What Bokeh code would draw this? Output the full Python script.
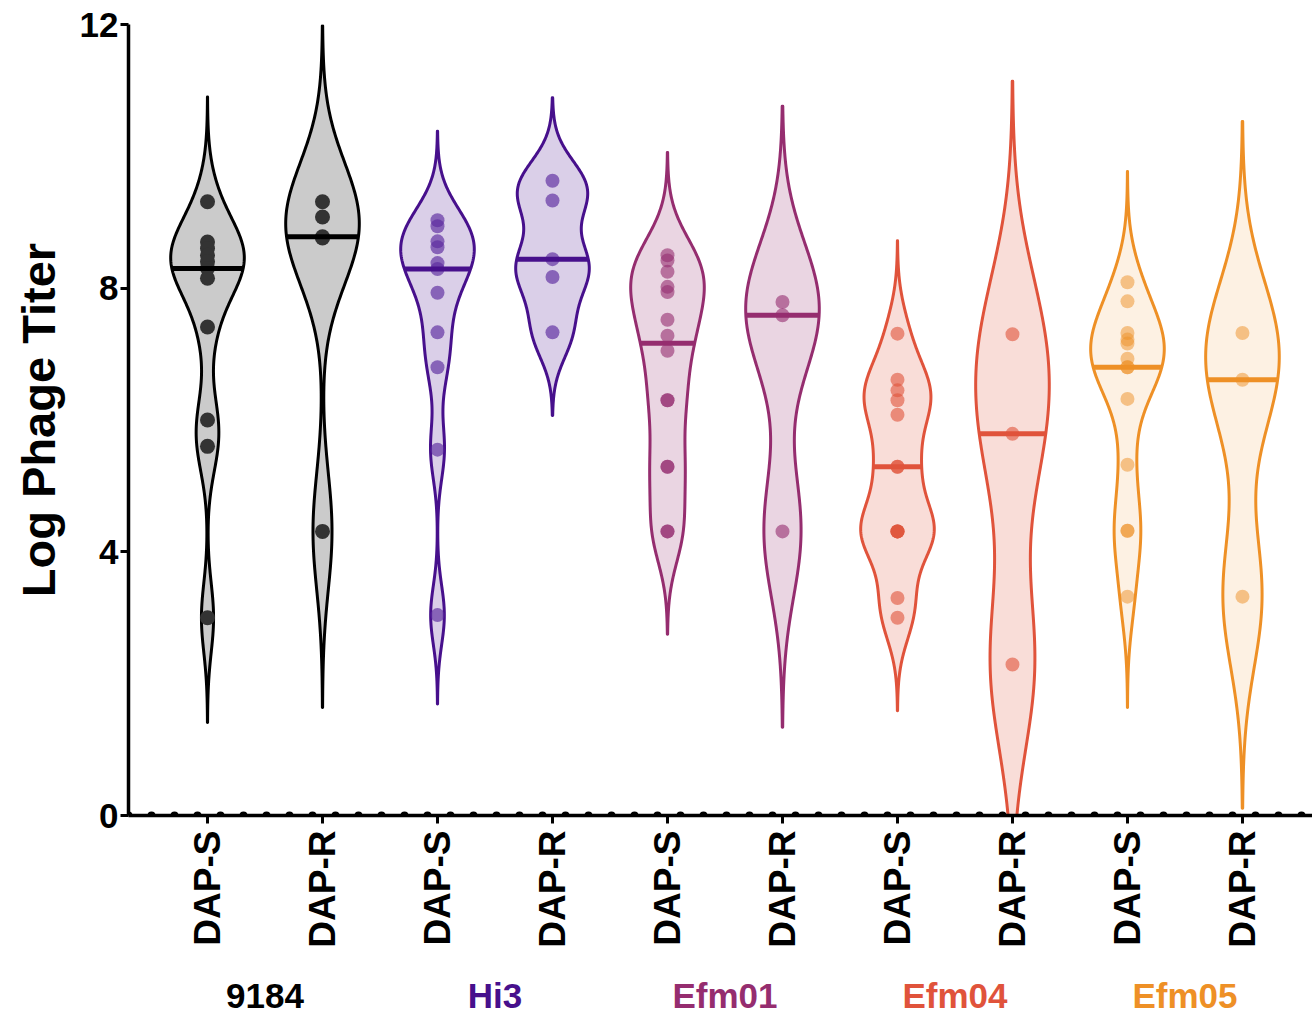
import numpy as np
from math import pi
from bokeh.plotting import figure
from bokeh.layouts import column
from bokeh.models import Range1d, FixedTicker, Span, ColumnDataSource
from bokeh.core.properties import value
from bokeh.embed import file_html
from bokeh.resources import INLINE

# ---------------- data ----------------
GROUPS = ["9184", "Hi3", "Efm01", "Efm04", "Efm05"]
CONDITIONS = ["DAP-S", "DAP-R"]

v9184_S = [9.31, 8.70, 8.60, 8.50, 8.40, 8.30, 8.15, 7.41, 6.00, 5.60, 3.00]
v9184_R = [9.31, 9.08, 8.78, 8.76, 4.31]
hi3_S = [9.03, 8.94, 8.71, 8.62, 8.38, 8.29, 7.93, 7.33, 6.80, 5.55, 3.04]
hi3_R = [9.63, 9.33, 8.44, 8.17, 7.33]
efm01_S = [8.50, 8.42, 8.25, 8.02, 7.94, 7.52, 7.28, 7.05, 6.30, 6.30, 5.29, 5.29, 4.31, 4.31]
efm01_R = [7.79, 7.59, 4.31]
efm04_S = [7.31, 6.61, 6.45, 6.30, 6.08, 5.29, 5.29, 4.31, 4.31, 4.31, 4.31, 3.30, 3.00]
efm04_R = [7.30, 5.79, 2.29]
efm05_S = [8.09, 7.80, 7.32, 7.22, 7.16, 6.93, 6.80, 6.80, 6.32, 5.32, 4.32, 4.32, 3.32]
efm05_R = [7.32, 6.61, 3.32]

SERIES = [v9184_S, v9184_R, hi3_S, hi3_R, efm01_S, efm01_R,
          efm04_S, efm04_R, efm05_S, efm05_R]
TICK_LABELS = [c for g in GROUPS for c in CONDITIONS]

Y_TICKS = [0, 4, 8, 12]

# ---------------- styles ----------------
LINE_COLORS = ["#000000", "#47108c", "#952d6f", "#e0533b", "#ee9026"]
FILL_COLORS = ["#cbcbcb", "#47108c", "#952d6f", "#e0533b", "#ee9026"]
FILL_ALPHAS = [1.0, 0.2, 0.2, 0.2, 0.13]
DOT_COLORS = ["#333333", "#5a2a9e", "#952d6f", "#e0533b", "#ee9026"]
DOT_ALPHAS = [1.0, 0.65, 0.6, 0.6, 0.5]
BANDWIDTH = [0.53, 0.89, 0.45, 0.42, 0.52, 0.99, 0.47, 1.28, 0.56, 1.07]
HALF_W = 0.32
FONT = "Liberation Sans"

x_range = Range1d(-0.687, 9.609)

p = figure(width=1312, height=950, output_backend="svg", toolbar_location=None,
           x_range=x_range, y_range=Range1d(0, 12),
           min_border_left=128, min_border_right=0, min_border_top=24,
           min_border_bottom=134)
p.outline_line_color = None
p.xgrid.visible = False
p.ygrid.visible = False
p.background_fill_color = "white"

# violins
for i, vals in enumerate(SERIES):
    g = i // 2
    bw = BANDWIDTH[i]
    arr = np.asarray(vals, dtype=float)
    lo = max(arr.min() - 3 * bw, 0.0)
    hi = arr.max() + 3 * bw
    grid = np.linspace(lo, hi, 400)
    dens = np.exp(-0.5 * ((grid[None, :] - arr[:, None]) / bw) ** 2).sum(axis=0)
    half = dens / dens.max() * HALF_W
    xs = np.concatenate([i + half, (i - half)[::-1]])
    ys = np.concatenate([grid, grid[::-1]])
    p.patch(xs, ys, fill_color=FILL_COLORS[g], fill_alpha=FILL_ALPHAS[g],
            line_color=LINE_COLORS[g], line_width=3, line_join="round")

    src = ColumnDataSource(dict(x=[i] * len(arr), y=arr))
    p.scatter("x", "y", source=src, size=15 if g == 0 else 14,
              fill_color=DOT_COLORS[g], fill_alpha=DOT_ALPHAS[g],
              line_color=None)

    med = float(np.median(arr))
    dm = np.exp(-0.5 * ((med - arr) / bw) ** 2).sum()
    hm = dm / dens.max() * HALF_W
    p.segment(x0=[i - hm], y0=[med], x1=[i + hm], y1=[med],
              line_color=LINE_COLORS[g], line_width=5)

# axes
p.xaxis.ticker = FixedTicker(ticks=list(range(len(TICK_LABELS))))
p.xaxis.major_label_overrides = {i: t for i, t in enumerate(TICK_LABELS)}
p.xaxis.major_label_orientation = pi / 2
p.xaxis.minor_tick_line_color = None
p.yaxis.ticker = FixedTicker(ticks=Y_TICKS)
p.yaxis.minor_tick_line_color = None
for ax in (p.xaxis, p.yaxis):
    ax.axis_line_width = 3.5
    ax.axis_line_color = "black"
    ax.major_tick_line_width = 3
    ax.major_tick_line_color = "black"
    ax.major_tick_out = 8
    ax.major_tick_in = 0
    ax.major_label_text_font = FONT
    ax.major_label_text_font_style = "bold"
    ax.major_label_text_color = "black"
p.xaxis.major_label_text_font_size = "37px"
p.xaxis.major_label_standoff = 7
p.yaxis.major_label_text_font_size = "35px"
p.yaxis.major_label_standoff = 2
p.yaxis.axis_label = "Log Phage Titer"
p.yaxis.axis_label_text_font = FONT
p.yaxis.axis_label_text_font_style = "bold"
p.yaxis.axis_label_text_font_size = "47px"
p.yaxis.axis_label_standoff = 12
p.yaxis.axis_label_text_color = "black"

# dotted baseline
p.add_layout(Span(location=0, dimension="width", line_color="black",
                  line_width=8, line_dash="0 23", line_cap="round"))

# group labels strip
p2 = figure(width=1312, height=66, output_backend="svg", toolbar_location=None,
            x_range=x_range, y_range=Range1d(0, 66),
            x_axis_location=None, y_axis_location=None,
            min_border_left=128, min_border_right=0, min_border_top=0,
            min_border_bottom=0)
p2.outline_line_color = None
p2.xgrid.visible = False
p2.ygrid.visible = False
gsrc = ColumnDataSource(dict(x=[2 * g + 0.5 for g in range(len(GROUPS))],
                             y=[21] * len(GROUPS), text=GROUPS,
                             color=LINE_COLORS))
p2.text("x", "y", text="text", source=gsrc, text_color="color",
        text_align="center", text_baseline="middle",
        text_font=value(FONT), text_font_style="bold", text_font_size="35px")

layout = column(p, p2, spacing=0)
open("out.html", "w").write(file_html(layout, INLINE))
